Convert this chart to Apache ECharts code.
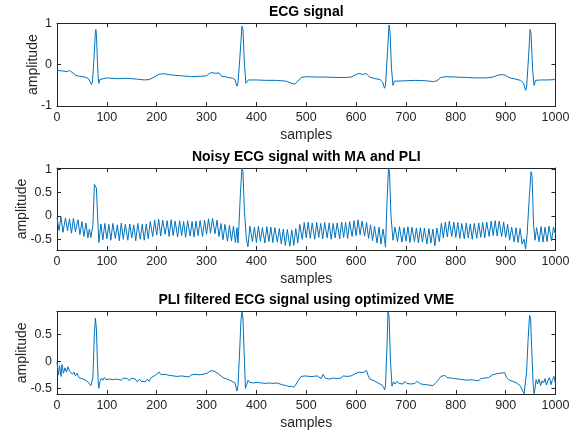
<!DOCTYPE html>
<html>
<head>
<meta charset="utf-8">
<script src="https://cdn.jsdelivr.net/npm/echarts@6/dist/echarts.min.js"></script>
<style>html,body{margin:0;padding:0;background:#fff}#c{width:581px;height:432px}</style>
</head>
<body>
<div id="c"></div>
<script>
// ---- data (sample, amplitude) ----
const titles = ['ECG signal', 'Noisy ECG signal with MA and PLI', 'PLI filtered ECG signal using optimized VME'];
const xTicks = [0,100,200,300,400,500,600,700,800,900,1000];
const yTicksTop = [-1, 0, 1];
const yTicksMid = [-0.5, 0, 0.5, 1];
const yTicksBot = [-0.5, 0, 0.5];

const ecgClean = [[0,-0.14],[10,-0.15],[20,-0.17],[25,-0.14],[28,-0.13],[32,-0.2],[38,-0.26],[45,-0.28],[55,-0.3],[62,-0.33],[66,-0.4],[69,-0.48],[71,-0.42],[74,0.1],[77,0.8],[78,0.85],[79,0.75],[81,0.1],[83,-0.4],[84,-0.45],[86,-0.36],[90,-0.33],[100,-0.32],[120,-0.34],[140,-0.33],[160,-0.35],[175,-0.37],[185,-0.36],[195,-0.3],[205,-0.23],[215,-0.22],[230,-0.25],[250,-0.27],[270,-0.29],[290,-0.28],[300,-0.27],[305,-0.22],[310,-0.19],[318,-0.21],[325,-0.2],[330,-0.28],[340,-0.3],[352,-0.33],[357,-0.36],[361,-0.52],[363,-0.45],[367,0.2],[371,0.93],[373,0.85],[376,0.0],[379,-0.45],[381,-0.47],[384,-0.37],[400,-0.37],[420,-0.38],[440,-0.38],[460,-0.4],[470,-0.45],[477,-0.47],[483,-0.4],[490,-0.31],[500,-0.29],[520,-0.3],[540,-0.3],[560,-0.31],[580,-0.31],[590,-0.3],[598,-0.25],[606,-0.21],[613,-0.24],[620,-0.21],[627,-0.3],[635,-0.33],[648,-0.36],[653,-0.42],[657,-0.57],[659,-0.5],[663,0.3],[666,0.96],[668,0.8],[671,-0.1],[674,-0.5],[677,-0.4],[680,-0.38],[700,-0.39],[720,-0.38],[740,-0.39],[755,-0.41],[762,-0.39],[770,-0.31],[780,-0.29],[800,-0.3],[820,-0.31],[840,-0.32],[860,-0.32],[875,-0.3],[885,-0.25],[893,-0.24],[900,-0.26],[905,-0.3],[912,-0.33],[920,-0.35],[930,-0.38],[936,-0.45],[940,-0.62],[942,-0.55],[946,0.2],[949,0.85],[951,0.75],[954,-0.1],[957,-0.5],[960,-0.38],[970,-0.37],[985,-0.37],[1000,-0.36]];

const ecgNoisy = [[0,-0.04],[4,-0.31],[8,-0.02],[12,-0.35],[17,-0.04],[21,-0.32],[25,-0.06],[29,-0.37],[33,-0.05],[37,-0.34],[42,-0.08],[46,-0.40],[50,-0.12],[54,-0.44],[58,-0.15],[62,-0.47],[65,-0.28],[68,-0.46],[70,-0.48],[72,-0.20],[75,0.68],[77,0.70],[79,0.60],[81,0.10],[84,-0.57],[88,-0.17],[92,-0.51],[96,-0.16],[100,-0.49],[104,-0.18],[108,-0.52],[112,-0.16],[117,-0.48],[121,-0.19],[125,-0.53],[129,-0.15],[133,-0.50],[137,-0.18],[142,-0.52],[146,-0.17],[150,-0.47],[154,-0.19],[158,-0.53],[162,-0.16],[167,-0.50],[171,-0.18],[175,-0.52],[179,-0.17],[183,-0.49],[187,-0.12],[192,-0.44],[196,-0.09],[200,-0.41],[204,-0.07],[208,-0.43],[212,-0.09],[217,-0.39],[221,-0.10],[225,-0.44],[229,-0.08],[233,-0.42],[237,-0.11],[242,-0.45],[246,-0.10],[250,-0.42],[254,-0.12],[258,-0.46],[262,-0.10],[267,-0.43],[271,-0.12],[275,-0.45],[279,-0.11],[283,-0.42],[287,-0.10],[292,-0.44],[296,-0.09],[300,-0.39],[304,-0.06],[308,-0.37],[312,-0.05],[317,-0.38],[321,-0.09],[325,-0.44],[329,-0.16],[333,-0.51],[337,-0.18],[342,-0.54],[346,-0.20],[350,-0.53],[354,-0.22],[358,-0.57],[361,-0.25],[363,-0.58],[365,-0.20],[368,0.5],[371,1.03],[373,0.95],[376,0.1],[380,-0.5],[383,-0.66],[387,-0.22],[392,-0.55],[396,-0.24],[400,-0.57],[404,-0.22],[408,-0.54],[412,-0.25],[417,-0.58],[421,-0.23],[425,-0.55],[429,-0.24],[433,-0.57],[437,-0.25],[442,-0.56],[446,-0.27],[450,-0.60],[454,-0.28],[458,-0.63],[462,-0.29],[467,-0.65],[471,-0.30],[475,-0.63],[479,-0.27],[483,-0.58],[487,-0.18],[492,-0.50],[496,-0.14],[500,-0.47],[504,-0.13],[508,-0.48],[512,-0.15],[517,-0.50],[521,-0.14],[525,-0.46],[529,-0.16],[533,-0.49],[537,-0.14],[542,-0.47],[546,-0.15],[550,-0.50],[554,-0.16],[558,-0.47],[562,-0.15],[567,-0.49],[571,-0.13],[575,-0.46],[579,-0.14],[583,-0.48],[587,-0.12],[592,-0.44],[596,-0.10],[600,-0.42],[604,-0.08],[608,-0.40],[612,-0.11],[617,-0.43],[621,-0.14],[625,-0.48],[629,-0.19],[633,-0.53],[637,-0.22],[642,-0.58],[646,-0.24],[650,-0.60],[654,-0.28],[657,-0.50],[659,-0.67],[662,0.3],[665,1.03],[667,0.95],[670,0.0],[674,-0.52],[678,-0.24],[683,-0.55],[687,-0.23],[692,-0.56],[696,-0.25],[700,-0.54],[704,-0.23],[708,-0.57],[712,-0.24],[717,-0.55],[721,-0.26],[725,-0.58],[729,-0.25],[733,-0.56],[737,-0.26],[742,-0.60],[746,-0.27],[750,-0.58],[754,-0.28],[758,-0.64],[762,-0.26],[767,-0.55],[771,-0.16],[775,-0.47],[779,-0.13],[783,-0.45],[787,-0.11],[792,-0.44],[796,-0.13],[800,-0.46],[804,-0.14],[808,-0.48],[812,-0.16],[817,-0.49],[821,-0.15],[825,-0.47],[829,-0.17],[833,-0.50],[837,-0.16],[842,-0.48],[846,-0.15],[850,-0.46],[854,-0.14],[858,-0.47],[862,-0.13],[867,-0.44],[871,-0.11],[875,-0.42],[879,-0.10],[883,-0.43],[887,-0.11],[892,-0.44],[896,-0.13],[900,-0.46],[904,-0.18],[908,-0.52],[912,-0.24],[917,-0.56],[921,-0.25],[925,-0.57],[929,-0.27],[933,-0.60],[937,-0.50],[940,-0.71],[943,-0.40],[945,-0.38],[948,0.5],[951,0.95],[953,0.85],[956,-0.2],[959,-0.52],[962,-0.25],[967,-0.55],[971,-0.23],[975,-0.56],[979,-0.24],[983,-0.55],[987,-0.22],[992,-0.53],[996,-0.24],[1000,-0.40]];

const ecgFiltered = [[0,-0.02],[3,-0.25],[5,-0.08],[8,-0.28],[10,-0.06],[13,-0.22],[16,-0.12],[19,-0.2],[22,-0.1],[25,-0.18],[28,-0.15],[31,-0.24],[34,-0.2],[37,-0.27],[40,-0.22],[44,-0.3],[48,-0.27],[52,-0.33],[56,-0.3],[60,-0.36],[64,-0.38],[68,-0.45],[70,-0.48],[72,-0.3],[75,0.5],[77,0.8],[79,0.6],[81,0.0],[83,-0.45],[84,-0.5],[86,-0.38],[89,-0.31],[92,-0.35],[95,-0.3],[98,-0.34],[101,-0.31],[105,-0.33],[109,-0.3],[113,-0.34],[117,-0.31],[121,-0.33],[125,-0.32],[129,-0.35],[133,-0.31],[137,-0.34],[141,-0.32],[145,-0.36],[149,-0.31],[153,-0.34],[157,-0.33],[161,-0.38],[165,-0.33],[169,-0.37],[173,-0.35],[177,-0.38],[181,-0.33],[185,-0.37],[189,-0.3],[193,-0.32],[197,-0.26],[201,-0.24],[205,-0.2],[209,-0.25],[213,-0.22],[217,-0.24],[221,-0.22],[225,-0.26],[229,-0.24],[233,-0.27],[237,-0.25],[241,-0.28],[245,-0.26],[249,-0.27],[253,-0.25],[257,-0.28],[261,-0.26],[265,-0.29],[269,-0.25],[273,-0.27],[277,-0.24],[281,-0.27],[285,-0.25],[289,-0.28],[293,-0.24],[297,-0.26],[301,-0.22],[305,-0.2],[309,-0.17],[313,-0.2],[317,-0.19],[321,-0.22],[325,-0.24],[329,-0.26],[333,-0.3],[337,-0.28],[341,-0.33],[345,-0.3],[349,-0.36],[353,-0.34],[357,-0.4],[361,-0.55],[363,-0.45],[366,0.1],[369,0.75],[371,0.92],[373,0.8],[376,0.0],[378,-0.5],[380,-0.45],[383,-0.35],[386,-0.39],[390,-0.36],[394,-0.4],[398,-0.37],[402,-0.39],[406,-0.36],[410,-0.4],[414,-0.37],[418,-0.41],[422,-0.38],[426,-0.4],[430,-0.37],[434,-0.41],[438,-0.38],[442,-0.4],[446,-0.41],[450,-0.43],[455,-0.44],[460,-0.45],[465,-0.47],[470,-0.46],[475,-0.48],[480,-0.42],[485,-0.34],[490,-0.28],[494,-0.31],[498,-0.27],[502,-0.3],[506,-0.28],[510,-0.31],[514,-0.28],[518,-0.3],[522,-0.27],[526,-0.3],[530,-0.32],[534,-0.24],[538,-0.31],[542,-0.29],[546,-0.33],[550,-0.3],[554,-0.31],[558,-0.28],[562,-0.32],[566,-0.29],[570,-0.31],[574,-0.27],[578,-0.3],[582,-0.28],[586,-0.3],[590,-0.27],[594,-0.25],[598,-0.23],[602,-0.22],[606,-0.2],[610,-0.23],[614,-0.21],[618,-0.24],[621,-0.17],[624,-0.26],[628,-0.33],[632,-0.32],[636,-0.36],[640,-0.38],[644,-0.4],[648,-0.42],[652,-0.44],[655,-0.48],[657,-0.53],[659,-0.45],[662,0.3],[664,0.92],[666,0.85],[669,0.0],[672,-0.46],[675,-0.38],[678,-0.42],[682,-0.37],[686,-0.41],[690,-0.38],[694,-0.42],[698,-0.37],[702,-0.41],[706,-0.38],[710,-0.42],[714,-0.39],[718,-0.41],[722,-0.37],[726,-0.4],[730,-0.42],[734,-0.39],[738,-0.43],[742,-0.4],[746,-0.44],[750,-0.42],[754,-0.45],[758,-0.42],[762,-0.38],[766,-0.33],[770,-0.28],[774,-0.3],[778,-0.26],[782,-0.3],[786,-0.27],[790,-0.31],[794,-0.28],[798,-0.32],[802,-0.3],[806,-0.33],[810,-0.31],[814,-0.34],[818,-0.32],[822,-0.35],[826,-0.32],[830,-0.34],[834,-0.31],[838,-0.35],[842,-0.33],[846,-0.36],[850,-0.32],[854,-0.34],[858,-0.31],[862,-0.33],[866,-0.3],[870,-0.27],[874,-0.25],[878,-0.26],[882,-0.23],[886,-0.25],[890,-0.22],[894,-0.24],[898,-0.21],[902,-0.3],[906,-0.34],[910,-0.33],[914,-0.37],[918,-0.36],[922,-0.4],[926,-0.42],[930,-0.46],[934,-0.55],[937,-0.6],[939,-0.58],[942,-0.2],[945,0.4],[948,0.85],[950,0.8],[952,0.3],[955,-0.4],[957,-0.6],[959,-0.5],[961,-0.34],[964,-0.42],[967,-0.33],[970,-0.45],[973,-0.36],[976,-0.4],[979,-0.32],[982,-0.44],[985,-0.35],[988,-0.3],[991,-0.43],[994,-0.34],[997,-0.28],[1000,-0.42]];

const seriesData = [ecgClean, ecgNoisy, ecgFiltered];
const yRanges = [[-1, 1], [-0.73, 1.03], [-0.605, 0.918]];
const yTickSets = [yTicksTop, yTicksMid, yTicksBot];

// ---- layout ----
const FONT = 'Liberation Sans, Arial, sans-serif';
const AX = '#262626';
const LINE = '#0072BD';
const grids = [
  {left: 57, width: 498.5, top: 23.3, height: 82.7, outerBoundsMode: 'none', containLabel: false},
  {left: 57, width: 498.5, top: 168, height: 82, outerBoundsMode: 'none', containLabel: false},
  {left: 57, width: 498.5, top: 311.7, height: 82.3, outerBoundsMode: 'none', containLabel: false}
];
const titleY = [12, 157, 300.5];
const yNameGap = [17, 28, 28];

const xAxes = [], yAxes = [], series = [], graphics = [];
grids.forEach((g, i) => {
  const common = {type: 'value', gridIndex: i, min: 0, max: 1000, interval: 100,
    splitLine: {show: false},
    axisLine: {show: true, onZero: false, lineStyle: {color: AX, width: 1}},
    axisTick: {show: true, inside: true, length: 4, lineStyle: {color: AX}}};
  xAxes.push(Object.assign({}, common, {
    position: 'bottom',
    axisLabel: {show: true, color: AX, fontFamily: FONT, fontSize: 12.5, margin: 5,
      formatter: v => String(v)},
    name: 'samples', nameLocation: 'middle', nameGap: 22, nameMoveOverlap: false,
    nameTextStyle: {color: AX, fontFamily: FONT, fontSize: 14}
  }));
  xAxes.push(Object.assign({}, common, {position: 'top', axisLabel: {show: false}}));
  const [ymin, ymax] = yRanges[i];
  const yc = {type: 'value', gridIndex: i, min: ymin, max: ymax,
    splitLine: {show: false},
    axisLine: {show: true, onZero: false, lineStyle: {color: AX, width: 1}},
    axisTick: {show: true, inside: true, length: 4, lineStyle: {color: AX}, customValues: yTickSets[i]}};
  yAxes.push(Object.assign({}, yc, {
    position: 'left',
    axisLabel: {show: true, color: AX, fontFamily: FONT, fontSize: 12.5, margin: 5,
      customValues: yTickSets[i], formatter: v => String(v)},
    name: 'amplitude', nameLocation: 'middle', nameRotate: 90, nameGap: yNameGap[i],
    nameMoveOverlap: false,
    nameTextStyle: {color: AX, fontFamily: FONT, fontSize: 14}
  }));
  yAxes.push(Object.assign({}, yc, {position: 'right', axisLabel: {show: false}}));
  series.push({type: 'line', xAxisIndex: 2 * i, yAxisIndex: 2 * i, data: seriesData[i],
    showSymbol: false, symbol: 'none', clip: true,
    lineStyle: {color: LINE, width: 1}, animation: false});
  graphics.push({type: 'text', x: g.left + g.width / 2, y: titleY[i],
    style: {text: titles[i], font: 'bold 14px ' + FONT, fill: '#000',
      textAlign: 'center', textVerticalAlign: 'middle'}});
});

const chart = echarts.init(document.getElementById('c'), null, {renderer: 'canvas'});
chart.setOption({
  animation: false,
  backgroundColor: '#fff',
  grid: grids,
  xAxis: xAxes,
  yAxis: yAxes,
  series: series,
  graphic: graphics
});
</script>
</body>
</html>
